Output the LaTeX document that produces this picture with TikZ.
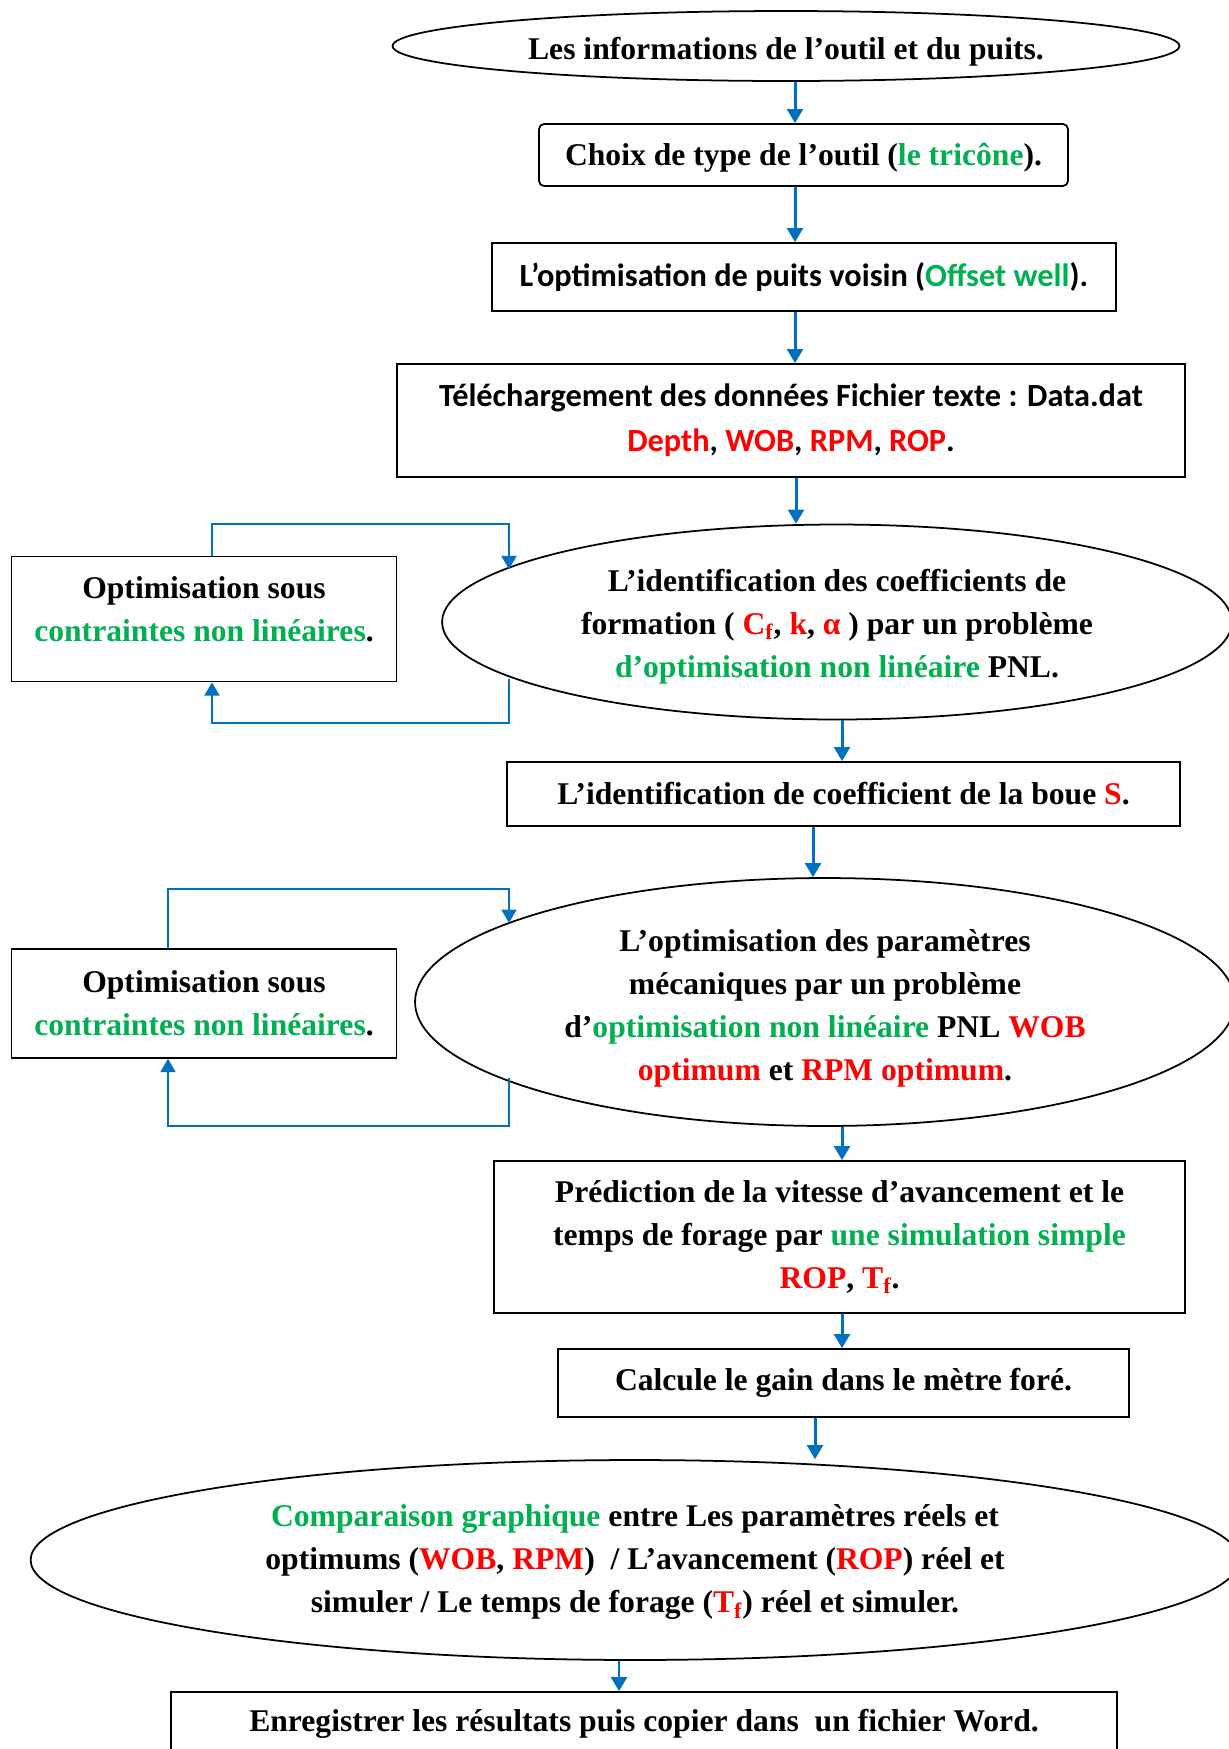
\documentclass[tikz,border=0pt]{standalone}
\usepackage{fontspec}
\setmainfont{Liberation Serif}
\newfontfamily\calibri{Carlito}
\usetikzlibrary{shapes.geometric,arrows.meta}
\definecolor{vert}{RGB}{0,176,80}
\definecolor{rouge}{RGB}{255,0,0}
\definecolor{bleu}{RGB}{0,112,192}
\newcommand{\vt}[1]{\textcolor{vert}{#1}}
\newcommand{\rg}[1]{\textcolor{rouge}{#1}}

\begin{document}
\begin{tikzpicture}[x=0.02cm,y=-0.02cm,
  every node/.style={font=\fontsize{18}{24.5}\selectfont\bfseries, align=center, inner sep=0pt},
  boite/.style={draw, line width=1pt},
  bulle/.style={draw, ellipse, line width=1pt},
  cal/.style={font=\fontsize{18.4}{25.5}\selectfont\calibri\bfseries},
  fleche/.style={draw=bleu, line width=1.7pt, -{Triangle[length=8pt,width=9pt]}},
  boucle/.style={draw=bleu, line width=1.1pt, -{Triangle[length=7.5pt,width=8.5pt]}}]

  \useasboundingbox (0,0) rectangle (1229,1749);

  \node[bulle, text height=19pt, minimum width=15.74cm, minimum height=1.4cm] (e1) at (786,46)
    {Les informations de l’outil et du puits.};
  \node[boite, text height=16.3pt, rounded corners=0.1cm, minimum width=10.58cm, minimum height=1.24cm] (b2) at (803.5,155)
    {Choix de type de l’outil (\vt{le tricône}).};
  \node[boite, cal, minimum width=12.48cm, minimum height=1.36cm] (b3) at (804,277)
    {L’optimisation de puits voisin (\vt{Offset well}).};
  \node[boite, cal, minimum width=15.76cm, minimum height=2.26cm] (b4) at (791,420.5)
    {Téléchargement des données Fichier texte : Data.dat\\
     \rg{Depth}, \rg{WOB}, \rg{RPM}, \rg{ROP}.};
  \node[bulle, text height=66.9pt, minimum width=15.8cm, minimum height=3.9cm] (e5) at (837,622)
    {L’identification des coefficients de\\
     formation ( \rg{C\textsubscript{f}}, \rg{k}, \rg{α} ) par un problème\\
     \vt{d’optimisation non linéaire} PNL.};
  \node[boite, text depth=11.4pt, minimum width=7.7cm, minimum height=2.5cm] (o1) at (204,619)
    {Optimisation sous\\ \vt{contraintes non linéaires}.};
  \node[boite, minimum width=13.46cm, minimum height=1.28cm] (b6) at (843.5,794)
    {L’identification de coefficient de la boue \rg{S}.};
  \node[bulle, text height=92.8pt, minimum width=16.4cm, minimum height=4.96cm] (e7) at (825,1002)
    {L’optimisation des paramètres\\
     mécaniques par un problème\\
     d’\vt{optimisation non linéaire} PNL \rg{WOB}\\
     \rg{optimum} et \rg{RPM optimum}.};
  \node[boite, minimum width=7.7cm, minimum height=2.18cm] (o2) at (204,1003.5)
    {Optimisation sous\\ \vt{contraintes non linéaires}.};
  \node[boite, minimum width=13.82cm, minimum height=3.04cm] (b8) at (839.5,1237)
    {Prédiction de la vitesse d’avancement et le\\
     temps de forage par \vt{une simulation simple}\\
     \rg{ROP}, \rg{T\textsubscript{f}}.};
  \node[boite, minimum width=11.42cm, minimum height=1.36cm] (b9) at (843.5,1383)
    {Calcule le gain dans le mètre foré.};
  \node[bulle, text height=64.2pt, minimum width=24.18cm, minimum height=4cm] (e10) at (635,1560)
    {\vt{Comparaison graphique} entre Les paramètres réels et\\
     optimums (\rg{WOB}, \rg{RPM})~ / L’avancement (\rg{ROP}) réel et\\
     simuler / Le temps de forage (\rg{T\textsubscript{f}}) réel et simuler.};
  \node[boite, minimum width=18.92cm, minimum height=1.28cm] (b11) at (644,1724)
    {Enregistrer les résultats puis copier dans~ un fichier Word.};

  \coordinate (x1) at (795,0);
  \coordinate (x2) at (796,0);
  \coordinate (x3) at (842,0);
  \coordinate (x4) at (813,0);
  \coordinate (x5) at (815,0);
  \coordinate (x6) at (619,0);

  \draw[fleche] (e1.south -| x1) -- (b2.north -| x1);
  \draw[fleche] (b2.south -| x1) -- (b3.north -| x1);
  \draw[fleche] (b3.south -| x1) -- (b4.north -| x1);
  \draw[fleche] (b4.south -| x2) -- (e5.north -| x2);
  \draw[fleche] (e5.south -| x3) -- (b6.north -| x3);
  \draw[fleche] (b6.south -| x4) -- (e7.north -| x4);
  \draw[fleche] (e7.south -| x3) -- (b8.north -| x3);
  \draw[fleche] (b8.south -| x3) -- (b9.north -| x3);
  \draw[fleche] (b9.south -| x5) -- (e10.north -| x5);
  \draw[fleche] (e10.south -| x6) -- (b11.north -| x6);

  \coordinate (g1) at (212,524);
  \coordinate (d1) at (509,524);
  \coordinate (d2) at (509,723);
  \draw[boucle] (o1.north -| g1) |- (d1) -- (d1 |- e5.171);
  \draw[boucle] (d2 |- e5.190) -- (d2) -| (o1.south -| g1);

  \coordinate (g2) at (168,889);
  \coordinate (d3) at (509,889);
  \coordinate (d4) at (509,1126);
  \draw[boucle] (o2.north -| g2) |- (d3) -- (d3 |- e7.166);
  \draw[boucle] (d4 |- e7.193) -- (d4) -| (o2.south -| g2);

\end{tikzpicture}
\end{document}
